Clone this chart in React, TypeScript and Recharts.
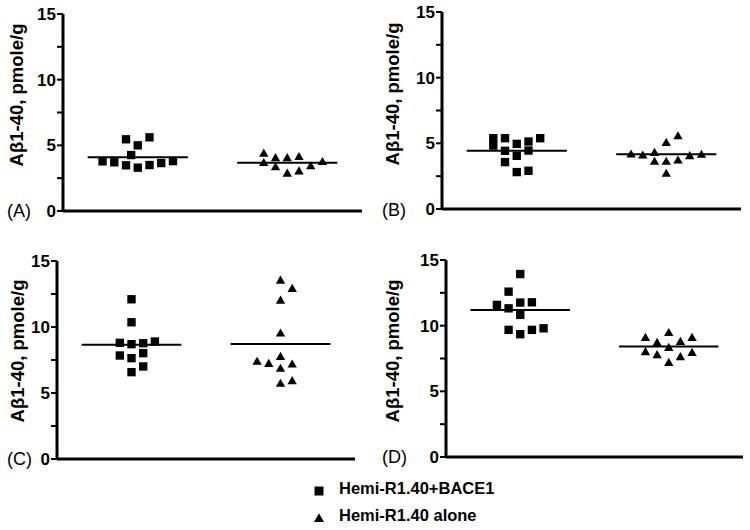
import React from 'react';
import { ComposedChart, Scatter, XAxis, YAxis, ReferenceLine, Symbols, Surface } from 'recharts';

// ---------- data ----------
const seriesNames = ['Hemi-R1.40+BACE1', 'Hemi-R1.40 alone'];
const panelLetters = ['(A)', '(B)', '(C)', '(D)'];
const yLabelText = 'Aβ1-40, pmole/g';
const yTicks = [0, 2.5, 5, 7.5, 10, 12.5, 15];
const yDomain = [0, 15];
const groupCenters = [1, 3];
const xDomain = [0, 4];
const slotStep = 0.157;
const meanHalfWidth = 0.67;

// each point: [jitter slot, value]
const panelA_bace = [[-3, 3.78], [-2, 3.71], [-1, 5.46], [-1, 3.48], [0, 5.0], [-0.56, 4.26], [0, 3.3], [1, 5.61], [1, 3.5], [2, 3.65], [3, 3.8]];
const panelA_alone = [[-2, 4.34], [-2, 3.63], [-1, 4.0], [-1, 3.3], [0, 4.0], [0, 2.82], [1, 4.09], [1, 2.99], [2, 3.38], [3, 3.7]];
const panelB_bace = [[-2, 5.39], [-2, 4.83], [-1, 5.39], [-1, 4.43], [-1, 3.57], [0, 4.96], [0, 4.05], [0, 2.81], [1, 5.14], [1, 4.45], [1, 2.91], [2, 5.39]];
const panelB_alone = [[-3, 4.12], [-2, 4.05], [-1, 4.25], [-1, 3.57], [0, 5.01], [0, 3.57], [0, 2.66], [1, 5.51], [1, 3.67], [2, 4.0], [3, 4.1]];
const panelC_bace = [[0, 12.1], [0, 10.36], [-1, 8.8], [-1, 7.84], [0, 8.7], [0, 7.64], [0, 6.58], [1, 8.77], [1, 8.02], [1, 7.01], [2, 8.9]];
const panelC_alone = [[0, 13.49], [1, 12.86], [0, 11.97], [0, 9.48], [-2, 7.34], [-1, 7.18], [0, 7.71], [0, 6.81], [1, 7.13], [0, 5.67], [1, 5.87]];
const panelD_bace = [[0, 13.93], [-1, 12.59], [-2, 11.58], [-1, 11.32], [0, 11.76], [0, 10.82], [1, 11.78], [-1, 9.68], [0, 9.35], [1, 9.68], [2, 9.8]];
const panelD_alone = [[-2, 9.04], [-2, 7.96], [-1, 8.66], [-1, 7.73], [0, 9.42], [0, 8.28], [0, 7.14], [1, 8.74], [1, 7.58], [2, 9.04], [2, 7.9]];

// group means (drawn lines)
const panelMeans = [[4.09, 3.68], [4.43, 4.17], [8.65, 8.72], [11.2, 8.41]];

const panelSeries = [
  [panelA_bace, panelA_alone],
  [panelB_bace, panelB_alone],
  [panelC_bace, panelC_alone],
  [panelD_bace, panelD_alone],
];

// ---------- layout ----------
const FONT = '"Liberation Sans", Arial, Helvetica, sans-serif';
const layouts = [
  { left: 0, top: 0, width: 375, height: 225, axisX: 63, plotTop: 14, plotBottom: 211, plotRight: 362, labelX: 16, labelY: 95, letterY: 211 },
  { left: 375, top: 0, width: 375, height: 225, axisX: 67, plotTop: 12, plotBottom: 209, plotRight: 366, labelX: 17, labelY: 94, letterY: 210 },
  { left: 0, top: 225, width: 375, height: 245, axisX: 57, plotTop: 36, plotBottom: 234, plotRight: 355, labelX: 17, labelY: 126, letterY: 234 },
  { left: 375, top: 225, width: 375, height: 245, axisX: 71, plotTop: 35, plotBottom: 232, plotRight: 368, labelX: 17, labelY: 126, letterY: 232 },
];

const toPoints = (arr: number[][], g: number) =>
  arr.map(([slot, v]) => ({ x: groupCenters[g] + slot * slotStep, y: v }));

const SquareShape = (props: any) => (
  <Symbols cx={props.cx} cy={props.cy} type="square" size={70} fill="#000" />
);
const TriangleShape = (props: any) => (
  <Symbols cx={props.cx} cy={props.cy} type="triangle" size={38} fill="#000" />
);

function Panel({ idx }: { idx: number }) {
  const L = layouts[idx];
  const [bace, alone] = panelSeries[idx];
  const means = panelMeans[idx];
  const labelContent = () => (
    <g>
      <text
        x={L.labelX}
        y={L.labelY}
        transform={`rotate(-90, ${L.labelX}, ${L.labelY})`}
        textAnchor="middle"
        dominantBaseline="central"
        fontFamily={FONT}
        fontWeight="bold"
        fontSize={18.5}
        fill="#000"
      >
        {yLabelText}
      </text>
      <text
        x={7}
        y={L.letterY}
        dominantBaseline="central"
        fontFamily={FONT}
        fontSize={18}
        fill="#000"
      >
        {panelLetters[idx]}
      </text>
    </g>
  );
  return (
    <div style={{ position: 'absolute', left: L.left, top: L.top }}>
      <ComposedChart
        width={L.width}
        height={L.height}
        margin={{ top: L.plotTop, bottom: L.height - L.plotBottom, left: 0, right: L.width - L.plotRight }}
      >
        <XAxis type="number" dataKey="x" domain={xDomain} hide allowDataOverflow />
        <YAxis
          type="number"
          dataKey="y"
          domain={yDomain}
          ticks={yTicks}
          interval={0}
          width={L.axisX}
          axisLine={{ stroke: '#000', strokeWidth: 3 }}
          tickLine={{ stroke: '#000', strokeWidth: 2 }}
          tickSize={6}
          tickMargin={1}
          tick={{ fill: '#000', fontSize: 17, fontWeight: 'bold', fontFamily: FONT }}
          tickFormatter={(v: number) => (v % 5 === 0 ? String(v) : '')}
          label={{ content: labelContent } as any}
        />
        <ReferenceLine y={0} stroke="#000" strokeWidth={3} ifOverflow="visible" />
        {means.map((m, g) => (
          <ReferenceLine
            key={g}
            segment={[
              { x: groupCenters[g] - meanHalfWidth, y: m },
              { x: groupCenters[g] + meanHalfWidth, y: m },
            ]}
            stroke="#000"
            strokeWidth={2}
            ifOverflow="visible"
          />
        ))}
        <Scatter name={seriesNames[0]} data={toPoints(bace, 0)} shape={SquareShape} isAnimationActive={false} />
        <Scatter name={seriesNames[1]} data={toPoints(alone, 1)} shape={TriangleShape} isAnimationActive={false} />
      </ComposedChart>
    </div>
  );
}

function LegendRow({ type, label, top }: { type: 'square' | 'triangle'; label: string; top: number }) {
  return (
    <div style={{ position: 'absolute', left: 310, top, height: 20, display: 'flex', alignItems: 'center' }}>
      <Surface width={18} height={18} viewBox={{ x: 0, y: 0, width: 18, height: 18 }}>
        <Symbols cx={9} cy={type === 'square' ? 12 : 13} type={type} size={type === 'square' ? 81 : 44} fill="#000" />
      </Surface>
      <span
        style={{
          marginLeft: 11,
          fontFamily: FONT,
          fontWeight: 'bold',
          fontSize: 16.5,
          color: '#000',
          lineHeight: '20px',
        }}
      >
        {label}
      </span>
    </div>
  );
}

export default function App() {
  return (
    <div style={{ position: 'absolute', left: 0, top: 0, width: 750, height: 530, background: '#fff', overflow: 'hidden' }}>
      {layouts.map((_, i) => (
        <Panel key={i} idx={i} />
      ))}
      <LegendRow type="square" label={seriesNames[0]} top={478} />
      <LegendRow type="triangle" label={seriesNames[1]} top={505} />
    </div>
  );
}
